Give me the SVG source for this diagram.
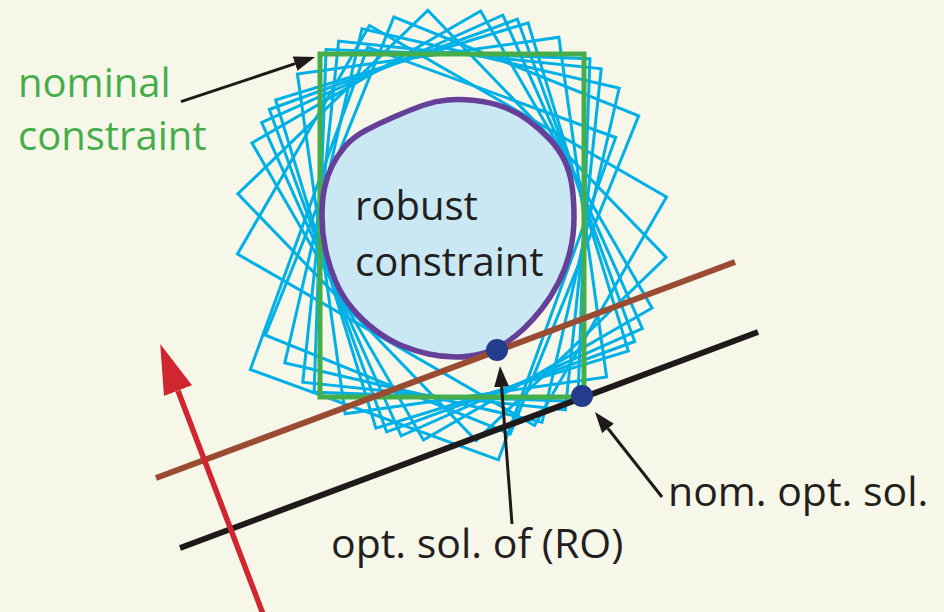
<svg xmlns="http://www.w3.org/2000/svg" width="944" height="612" viewBox="0 0 944 612">
  <defs>
    <style>
      .lbl { font-family: "Open Sans", "Noto Sans", "Liberation Sans", sans-serif; font-size: 40px; fill: #231f20; }
      .big { font-size: 41px; }
      .green { fill: #46ad4b; }
      .blue { fill: none; stroke: #00b0e6; stroke-width: 3; }
      .ann { stroke: #1f1a1a; stroke-width: 3; fill: none; }
    </style>
    <marker id="headBlack" markerUnits="userSpaceOnUse" markerWidth="22" markerHeight="16" refX="0" refY="7.5" orient="auto" viewBox="0 0 22 15">
      <path d="M0,0 L21,7.5 L0,15 Z" fill="#1f1a1a"/>
    </marker>
    <marker id="headRed" markerUnits="userSpaceOnUse" markerWidth="52" markerHeight="32" refX="0" refY="15" orient="auto" viewBox="0 0 52 30">
      <path d="M0,0 L50,15 L0,30 Z" fill="#d12530"/>
    </marker>
  </defs>

  <rect x="0" y="0" width="944" height="612" fill="#f7f7e9"/>

  <g id="uncertain-constraints">
    <rect class="blue" x="320" y="54" width="264" height="343" transform="rotate(-60 452 225.5)"/>
    <rect class="blue" x="320" y="54" width="264" height="343" transform="rotate(-44 452 225.5)"/>
    <rect class="blue" x="320" y="54" width="264" height="343" transform="rotate(-30 452 225.5)"/>
    <rect class="blue" x="320" y="54" width="264" height="343" transform="rotate(-24 452 225.5)"/>
    <rect class="blue" x="320" y="54" width="264" height="343" transform="rotate(-20 452 225.5)"/>
    <rect class="blue" x="320" y="54" width="264" height="343" transform="rotate(-17 452 225.5)"/>
    <rect class="blue" x="320" y="54" width="264" height="343" transform="rotate(-8 452 225.5)"/>
    <rect class="blue" x="320" y="54" width="264" height="343" transform="rotate(2 452 225.5)"/>
    <rect class="blue" x="320" y="54" width="264" height="343" transform="rotate(6 452 225.5)"/>
    <rect class="blue" x="320" y="54" width="264" height="343" transform="rotate(13 452 225.5)"/>
    <rect class="blue" x="320" y="54" width="264" height="343" transform="rotate(22 452 225.5)"/>
    <rect class="blue" x="320" y="54" width="264" height="343" transform="translate(-19 28) rotate(20 452 225.5)"/>
  </g>

  <g id="nominal-constraint">
    <rect x="320" y="54" width="264" height="343" fill="none" stroke="#46ad4b" stroke-width="5"/>
  </g>

  <g id="robust-constraint">
    <path d="M475,100.5 Q490,102 503.5,107 Q517,112 528.5,120.5 Q540,129 549.5,139 Q559,149 564.5,160.5 Q570,172 572,186 Q574,200 574,217.5 Q574,235 570,251.5 Q566,268 558.5,282.5 Q551,297 542,308.5 Q533,320 524,328.5 Q515,337 505,343.5 Q495,350 482.5,353.5 Q470,357 456,357 Q442,357 428.5,354 Q415,351 401.5,345.5 Q388,340 375,330 Q362,320 352,308 Q342,296 335.5,281 Q329,266 325.5,249.5 Q322,233 322,216.5 Q322,200 324.5,188 Q327,176 332,166 Q337,156 345,146.5 Q353,137 366.5,130 Q380,123 395,116.5 Q410,110 422.5,105.5 Q435,101 447.5,100 Q460,99 475,100.5 Z" fill="#c9e8f4" stroke="#653f98" stroke-width="5.5"/>
    <text class="lbl" x="355" y="220">robust</text>
    <text class="lbl" x="355" y="276">constraint</text>
  </g>

  <g id="objective-lines">
    <line x1="156" y1="478" x2="735" y2="262" stroke="#9a4c33" stroke-width="6"/>
    <line x1="180" y1="548" x2="758" y2="332" stroke="#1f1a1a" stroke-width="6"/>
  </g>

  <g id="solutions">
    <circle id="robust-opt" cx="497" cy="350" r="11" fill="#233c8c"/>
    <circle id="nominal-opt" cx="582" cy="396" r="11" fill="#233c8c"/>
  </g>

  <g id="connectors">
    <line x1="263" y1="614" x2="178" y2="390.7" stroke="#d12530" stroke-width="5.5" marker-end="url(#headRed)"/>
    <line class="ann" x1="181" y1="101.7" x2="295.1" y2="63.7" marker-end="url(#headBlack)"/>
    <line class="ann" x1="512" y1="524" x2="501.6" y2="386.9" marker-end="url(#headBlack)"/>
    <line class="ann" x1="662" y1="497" x2="608" y2="428.5" marker-end="url(#headBlack)"/>
  </g>

  <g id="labels">
    <text class="lbl green" x="18" y="97">nominal</text>
    <text class="lbl green" x="18" y="150">constraint</text>
    <text class="lbl big" x="331" y="558">opt. sol. of (RO)</text>
    <text class="lbl big" x="668" y="506">nom. opt. sol.</text>
  </g>
</svg>
